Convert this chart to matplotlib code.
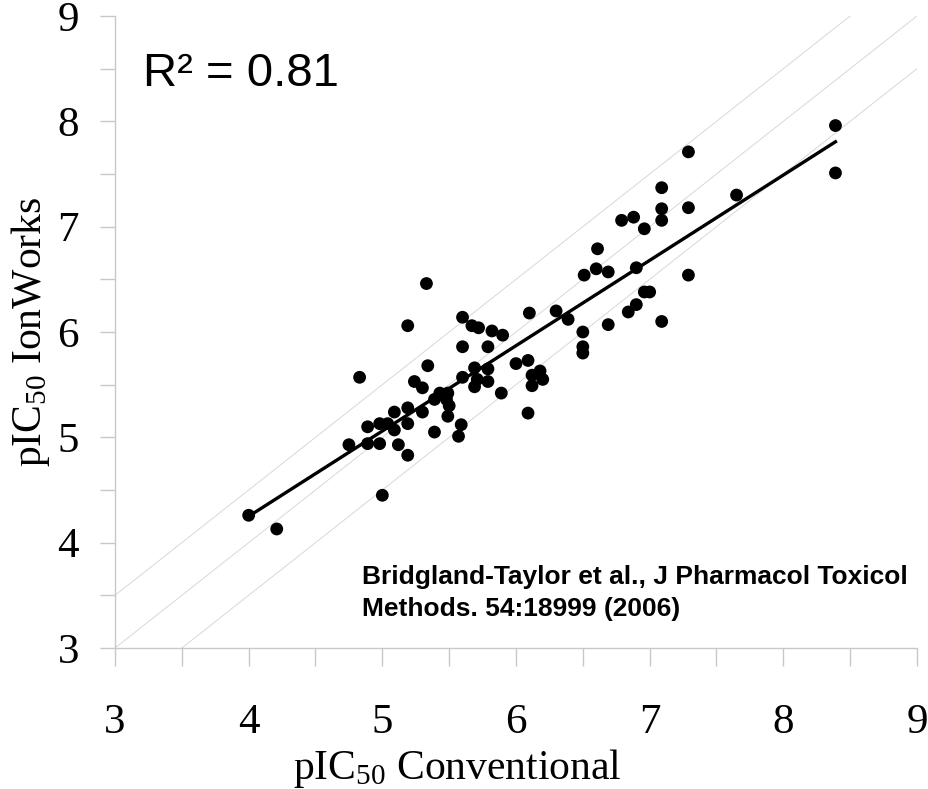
import matplotlib
matplotlib.use("Agg")
import matplotlib.pyplot as plt
import numpy as np

# pIC50 values
conventional = [
    4.00, 4.21, 5.00, 4.75, 4.89, 4.89, 4.98, 5.12, 5.19, 5.09,
    4.98, 5.04, 5.09, 5.19, 5.19, 5.30, 5.33, 5.19, 4.83, 5.60,
    5.67, 5.72, 5.82, 5.90, 5.60, 5.79, 5.34, 5.24, 5.30, 5.60,
    5.69, 5.79, 5.69, 5.71, 5.79, 5.89, 5.43, 5.49, 5.39, 5.48,
    5.50, 5.49, 5.39, 5.59, 5.57, 6.10, 6.30, 6.39, 6.50, 6.50,
    6.50, 6.69, 6.84, 6.00, 6.09, 6.12, 6.18, 6.20, 6.12, 6.09,
    7.29, 7.09, 7.09, 7.09, 7.29, 6.79, 6.88, 6.96, 6.61, 6.51,
    6.60, 6.69, 6.90, 7.29, 6.96, 7.00, 6.90, 7.09, 7.65, 8.39,
    8.39,
]
ionworks = [
    4.26, 4.13, 4.45, 4.93, 5.10, 4.94, 4.94, 4.93, 4.83, 5.24,
    5.13, 5.13, 5.07, 5.13, 5.28, 5.24, 6.46, 6.06, 5.57, 6.14,
    6.06, 6.04, 6.01, 5.97, 5.86, 5.86, 5.68, 5.53, 5.47, 5.57,
    5.66, 5.65, 5.48, 5.55, 5.53, 5.42, 5.42, 5.42, 5.36, 5.36,
    5.30, 5.20, 5.05, 5.12, 5.01, 6.18, 6.20, 6.12, 6.00, 5.86,
    5.80, 6.07, 6.19, 5.70, 5.73, 5.59, 5.63, 5.55, 5.49, 5.23,
    7.71, 7.37, 7.17, 7.06, 7.18, 7.06, 7.09, 6.98, 6.79, 6.54,
    6.60, 6.57, 6.61, 6.54, 6.38, 6.38, 6.26, 6.10, 7.30, 7.96,
    7.51,
]

# regression line as drawn in the figure
fit_slope = 0.81
fit_intercept = 1.01
r_squared = 0.81

# identity line and +/- 0.5 log unit bands
band_offsets = [-0.5, 0.0, 0.5]

citation = "Bridgland-Taylor et al., J Pharmacol Toxicol\nMethods. 54:18999 (2006)"

plt.rcParams["mathtext.fontset"] = "custom"
plt.rcParams["mathtext.rm"] = "Liberation Serif"
plt.rcParams["mathtext.it"] = "Liberation Serif:italic"

fig = plt.figure(figsize=(9.29, 7.89), dpi=100)
ax = fig.add_axes([115 / 929, 1 - 648 / 789, 802 / 929, 632 / 789])

lim = np.array([3.0, 9.0])
for off in band_offsets:
    ax.plot(lim, lim + off, color="#d8d8d8", linewidth=0.7, zorder=1)

ax.scatter(conventional, ionworks, s=85, color="black", edgecolors="none", zorder=3)

fit_x = np.array([min(conventional), max(conventional)])
ax.plot(fit_x, fit_slope * fit_x + fit_intercept, color="black", linewidth=2.4, zorder=2)

ax.set_xlim(3, 9)
ax.set_ylim(3, 9)
ticks = np.arange(3, 9.01, 0.5)
ax.set_xticks(ticks)
ax.set_yticks(ticks)
ax.set_xticklabels([f"{t:g}" if t == int(t) else "" for t in ticks])
ax.set_yticklabels([f"{t:g}" if t == int(t) else "" for t in ticks])

for side in ["top", "right"]:
    ax.spines[side].set_visible(False)
for side in ["left", "bottom"]:
    ax.spines[side].set_color("#c8c8c8")
    ax.spines[side].set_linewidth(1.0)

ax.tick_params(axis="x", length=13, width=1, color="#c8c8c8", pad=27,
               labelsize=31, labelfontfamily="Liberation Serif")
ax.tick_params(axis="y", length=11, width=1, color="#c8c8c8", pad=15,
               labelsize=31, labelfontfamily="Liberation Serif")

ax.set_ylabel(r"pIC$_{50}$ IonWorks", fontsize=30, family="Liberation Serif")
ax.yaxis.set_label_coords(-0.079, 0.5)
fig.text(457 / 929, 1 - 779 / 789, r"pIC$_{50}$ Conventional", fontsize=30,
         family="Liberation Serif", ha="center", va="baseline")

ax.text(3.21, 8.34, f"R\u00b2 = {r_squared:.2f}", fontsize=34,
        family="Liberation Sans", va="baseline", ha="left")
ax.text(4.85, 3.30, citation, fontsize=19, fontweight="bold",
        family="Liberation Sans", va="baseline", ha="left", linespacing=1.42)

fig.savefig("out.png", dpi=100)
